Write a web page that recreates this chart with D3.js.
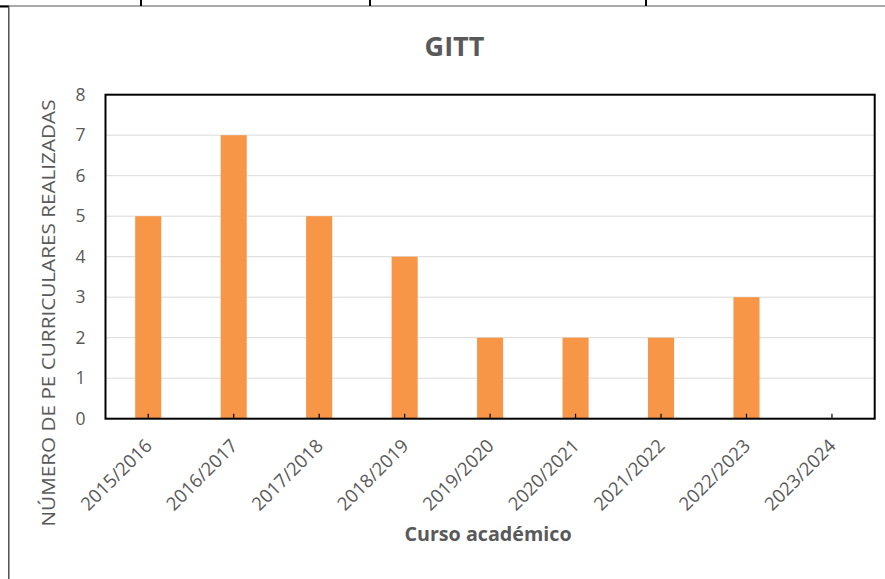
<!DOCTYPE html>
<html>
<head>
<meta charset="utf-8">
<script src="https://cdn.jsdelivr.net/npm/d3@7"></script>
<style>
  html, body { margin: 0; padding: 0; background: #fff; }
  svg { display: block; }
  text { font-family: "Open Sans", "Liberation Sans", sans-serif; fill: #595959; }
</style>
</head>
<body>
<svg id="chart" width="885" height="579"></svg>
<script>
// Practicas externas curriculares por curso academico (GITT)
const cursos = ["2015/2016", "2016/2017", "2017/2018", "2018/2019", "2019/2020",
                "2020/2021", "2021/2022", "2022/2023", "2023/2024"];
const practicas = [5, 7, 5, 4, 2, 2, 2, 3, 0];
const yTicks = [0, 1, 2, 3, 4, 5, 6, 7, 8];

const titulo = "GITT";
const tituloX = "Curso académico";
const tituloY = "NÚMERO DE PE CURRICULARES REALIZADAS";

const svg = d3.select("#chart");
const plot = { left: 105.5, top: 94.7, right: 874.7, bottom: 418.7 };

// Bordes de la tabla que contiene el grafico
const frame = svg.append("g");
frame.append("line").attr("x1", 0).attr("x2", 885).attr("y1", 6).attr("y2", 6)
  .attr("stroke", "#555").attr("stroke-width", 1.2);
frame.append("line").attr("x1", 0).attr("x2", 9).attr("y1", 6.5).attr("y2", 6.5)
  .attr("stroke", "#000").attr("stroke-width", 2);
frame.append("line").attr("x1", 8.8).attr("x2", 8.8).attr("y1", 6).attr("y2", 579)
  .attr("stroke", "#444").attr("stroke-width", 1.4);
[141, 370, 646].forEach(x => {
  frame.append("line").attr("x1", x).attr("x2", x).attr("y1", 0).attr("y2", 6)
    .attr("stroke", "#000").attr("stroke-width", 2);
});

const x = d3.scaleBand()
  .domain(cursos)
  .range([plot.left, plot.right])
  .paddingInner(0.695)
  .paddingOuter(0.3475);

const y = d3.scaleLinear()
  .domain([0, 8])
  .range([plot.bottom, plot.top]);

// Lineas de cuadricula
svg.append("g")
  .selectAll("line")
  .data(yTicks.filter(t => t > 0 && t < 8))
  .join("line")
  .attr("x1", plot.left).attr("x2", plot.right)
  .attr("y1", d => y(d)).attr("y2", d => y(d))
  .attr("stroke", "#D9D9D9").attr("stroke-width", 1);

// Barras
svg.append("g")
  .selectAll("rect")
  .data(cursos.map((c, i) => ({ c, v: practicas[i] })))
  .join("rect")
  .attr("x", d => x(d.c))
  .attr("width", x.bandwidth())
  .attr("y", d => y(d.v))
  .attr("height", d => y(0) - y(d.v))
  .attr("fill", "#F79646");

// Marco del area de trazado
svg.append("rect")
  .attr("x", plot.left).attr("y", plot.top)
  .attr("width", plot.right - plot.left).attr("height", plot.bottom - plot.top)
  .attr("fill", "none").attr("stroke", "#000").attr("stroke-width", 2);

// Eje Y
const yAxis = svg.append("g")
  .attr("transform", `translate(${plot.left},0)`)
  .call(d3.axisLeft(y).tickValues(yTicks).tickSize(0).tickPadding(20).tickFormat(d3.format("d")));
yAxis.select(".domain").remove();
yAxis.selectAll("text")
  .style("font-size", "17.5px")
  .attr("fill", "#595959");

// Eje X: marcas interiores en el centro de cada categoria
const xAxis = svg.append("g")
  .attr("transform", `translate(0,${plot.bottom})`)
  .call(d3.axisBottom(x).tickSize(-5).tickFormat(""));
xAxis.select(".domain").remove();
xAxis.selectAll(".tick line").attr("stroke", "#000").attr("stroke-width", 1.2);

svg.append("g")
  .selectAll("text")
  .data(cursos)
  .join("text")
  .attr("text-anchor", "end")
  .attr("transform", d => `translate(${x(d) + x.bandwidth() / 2 + 5},447) rotate(-45)`)
  .style("font-size", "18.5px")
  .text(d => d);

// Titulos
svg.append("text")
  .attr("x", 454.5).attr("y", 56)
  .attr("text-anchor", "middle")
  .style("font-size", "27px").style("font-weight", "bold")
  .text(titulo);

svg.append("text")
  .attr("x", 488).attr("y", 541)
  .attr("text-anchor", "middle")
  .style("font-size", "19.7px").style("font-weight", "bold")
  .text(tituloX);

svg.append("text")
  .attr("transform", "translate(55,313) rotate(-90)")
  .attr("text-anchor", "middle")
  .attr("textLength", 427).attr("lengthAdjust", "spacingAndGlyphs")
  .style("font-size", "19px")
  .text(tituloY);
</script>
</body>
</html>
